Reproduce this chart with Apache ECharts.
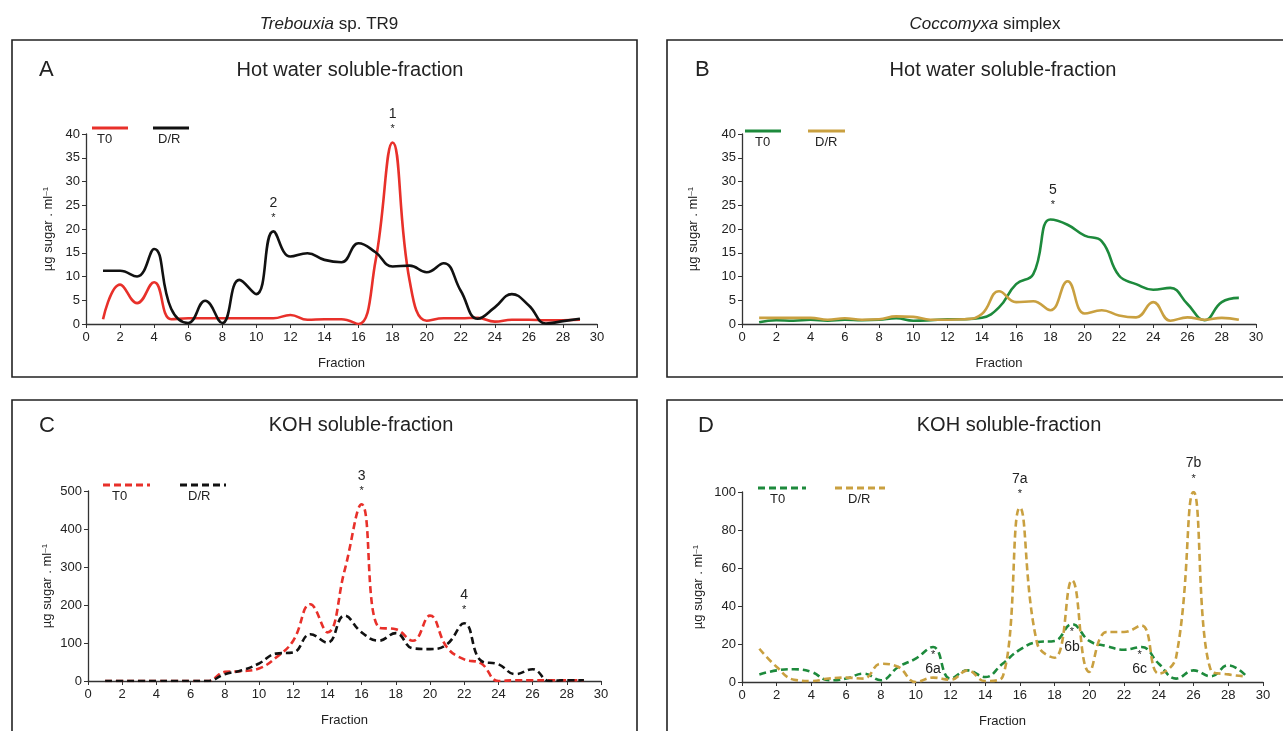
<!DOCTYPE html>
<html lang="en">
<head>
    <meta charset="UTF-8">
    <title>Polysaccharide fractions</title>
    <style>
        html, body, #main {
            width: 100%;
            height: 100%;
            margin: 0;
            padding: 0;
            background: #fff;
        }
    </style>
    <script src="https://cdn.jsdelivr.net/npm/echarts@6/dist/echarts.min.js"></script>
</head>
<body>
    <div id="main"></div>
    <script>
        var chart = echarts.init(document.getElementById('main'));

        // fraction numbers (x)
        const fractions = [1, 2, 3, 4, 5, 6, 7, 8, 9, 10, 11, 12, 13, 14, 15, 16, 17, 18, 19, 20, 21, 22, 23, 24, 25, 26, 27, 28, 29];

        // A - Trebouxia, hot water
        const trebHotT0 = [1.0, 8.3, 4.4, 8.8, 1.0, 1.2, 1.2, 1.2, 1.2, 1.2, 1.2, 1.9, 0.9, 1.0, 1.0, 0, 13.3, 38.2, 9.1, 0.7, 1.2, 1.2, 1.3, 0.5, 0.9, 0.9, 0.8, 0.8, 0.9];
        const trebHotDR = [11.2, 11.2, 10.0, 15.8, 3.2, 0.2, 4.9, 0.2, 9.3, 6.3, 19.5, 14.2, 14.9, 13.5, 13.0, 17.0, 15.1, 12.1, 12.3, 10.9, 12.8, 7.0, 1.1, 3.5, 6.3, 3.9, 0.1, 0.6, 1.1];
        // B - Coccomyxa, hot water
        const coccHotT0 = [0.35, 0.8, 0.7, 0.9, 0.7, 0.9, 0.8, 0.9, 1.2, 0.7, 0.8, 1.0, 1.0, 1.3, 3.5, 8.4, 10.5, 22.0, 20.9, 18.6, 17.4, 10.2, 8.4, 7.2, 7.6, 4.2, 0.8, 4.6, 5.5];
        const coccHotDR = [1.3, 1.3, 1.3, 1.3, 0.9, 1.2, 0.9, 1.0, 1.6, 1.5, 0.9, 0.9, 1.0, 2.1, 6.9, 4.6, 4.8, 2.9, 9.0, 2.2, 2.9, 1.8, 1.4, 4.6, 0.7, 1.4, 0.9, 1.3, 0.9];
        // C - Trebouxia, KOH
        const trebKohT0 = [0, 0, 0, 0, 0, 0, 0, 24, 26, 33, 62, 106, 202, 128, 290, 465, 141, 136, 106, 172, 88, 57, 46, 0, 2, 2, 2, 2, 2];
        const trebKohDR = [0, 0, 0, 0, 0, 0, 0, 18, 28, 46, 72, 75, 123, 101, 172, 128, 106, 126, 86, 84, 97, 152, 53, 44, 18, 31, 0, 2, 2];
        // D - Coccomyxa, KOH
        const coccKohT0 = [4.0, 6.1, 6.7, 5.3, 0.9, 1.8, 4.4, 0.9, 7.9, 12.3, 18.4, 1.8, 6.1, 2.6, 9.6, 17.0, 21.0, 21.6, 30.4, 21.6, 18.9, 17.0, 18.4, 9.6, 1.8, 6.1, 3.0, 8.8, 3.5];
        const coccKohDR = [17.5, 7.9, 1.2, 0.5, 1.8, 2.3, 1.8, 9.6, 7.9, 0, 2.3, 1.2, 6.1, 0.5, 2.6, 91.8, 20.2, 12.8, 53.5, 5.3, 26.3, 26.3, 29.8, 4.4, 13.2, 100, 6.1, 4.0, 3.0];

        const seriesNames = ['T0', 'D/R'];
        const panelTitles = ['Hot water soluble-fraction', 'Hot water soluble-fraction', 'KOH soluble-fraction', 'KOH soluble-fraction'];
        const panelLetters = ['A', 'B', 'C', 'D'];
        const yMax = [40, 40, 500, 100];
        const yStep = [5, 5, 100, 20];

        const RED = '#e8302a', BLACK = '#111111', GREEN = '#1d8a3c', GOLD = '#c9a040';
        const DASH = [7, 4];

        function pairs(vals) {
            return fractions.map(function (f, i) { return [f, vals[i]]; });
        }

        // grid positions
        const grids = [
            { left: 86, top: 134, width: 511, height: 190 },
            { left: 742, top: 134, width: 514, height: 190 },
            { left: 88, top: 491, width: 513, height: 190 },
            { left: 742, top: 492, width: 521, height: 190 }
        ];
        const yNameGap = [31, 42, 34, 37];
        const xNameGap = [33, 33, 33, 33];

        const txt = '#222';
        const font = 'Liberation Sans, Arial, sans-serif';

        var xAxes = [], yAxes = [];
        grids.forEach(function (g, i) {
            xAxes.push({
                type: 'value', gridIndex: i, min: 0, max: 30, interval: 2,
                name: 'Fraction', nameLocation: 'middle', nameGap: xNameGap[i],
                nameTextStyle: { color: txt, fontSize: 13, fontFamily: font },
                axisLine: { lineStyle: { color: '#333', width: 1.3 } },
                axisTick: { show: true, length: 4, lineStyle: { color: '#333' } },
                axisLabel: { color: txt, fontSize: 13, fontFamily: font, margin: 7 },
                splitLine: { show: false }
            });
            yAxes.push({
                type: 'value', gridIndex: i, min: 0, max: yMax[i], interval: yStep[i],
                name: 'µg sugar . ml{s|–1}', nameLocation: 'middle', nameGap: yNameGap[i],
                nameRotate: 90,
                nameTextStyle: {
                    color: txt, fontSize: 13, fontFamily: font,
                    rich: { s: { fontSize: 8, verticalAlign: 'top', lineHeight: 10, color: txt, fontFamily: font } }
                },
                axisLine: { show: true, lineStyle: { color: '#333', width: 1.3 } },
                axisTick: { show: true, length: 4, lineStyle: { color: '#333' } },
                axisLabel: { color: txt, fontSize: 13, fontFamily: font, margin: 6 },
                splitLine: { show: false }
            });
        });

        function annot(x, y, label, below) {
            return {
                coord: [x, y],
                symbol: 'circle', symbolSize: 1,
                itemStyle: { color: 'rgba(0,0,0,0)' },
                label: {
                    show: true,
                    position: below ? 'bottom' : 'top',
                    distance: below ? 1 : 7,
                    lineHeight: 17,
                    formatter: below ? '{s|*}\n{n|' + label + '}' : '{n|' + label + '}\n{s|*}',
                    rich: {
                        n: { fontSize: 14, color: '#222', fontFamily: font, lineHeight: 18 },
                        s: { fontSize: 11, color: '#222', fontFamily: font, lineHeight: 12 }
                    }
                }
            };
        }

        function line(name, vals, gi, color, dashed, marks) {
            return {
                name: name, type: 'line', xAxisIndex: gi, yAxisIndex: gi,
                data: pairs(vals), smooth: 0.45, showSymbol: false, symbol: 'none',
                lineStyle: { color: color, width: 2.6, type: dashed ? DASH : 'solid' },
                itemStyle: { color: color },
                markPoint: marks ? { silent: true, animation: false, data: marks } : undefined,
                z: 3
            };
        }

        var series = [
            line('T0', trebHotT0, 0, RED, false, [annot(18, trebHotT0[17], '1')]),
            line('D/R', trebHotDR, 0, BLACK, false, [annot(11, trebHotDR[10], '2')]),
            line('T0', coccHotT0, 1, GREEN, false, [annot(18.15, coccHotT0[17] + 0.2, '5')]),
            line('D/R', coccHotDR, 1, GOLD, false),
            line('T0', trebKohT0, 2, RED, true, [annot(16, trebKohT0[15], '3')]),
            line('D/R', trebKohDR, 2, BLACK, true, [annot(22, trebKohDR[21], '4')]),
            line('T0', coccKohT0, 3, GREEN, true, [annot(11, coccKohT0[10], '6a', true), annot(19, coccKohT0[18], '6b', true), annot(22.9, coccKohT0[22], '6c', true)]),
            line('D/R', coccKohDR, 3, GOLD, true, [annot(16, coccKohDR[15], '7a'), annot(26, coccKohDR[25], '7b')])
        ];

        // titles
        var titles = [
            { text: '{i|Trebouxia} sp. TR9', left: 324, top: 11, textAlign: 'center',
              textStyle: { fontSize: 17, fontWeight: 'normal', color: txt, fontFamily: font,
                rich: { i: { fontStyle: 'italic', fontSize: 17, color: txt, fontFamily: font } } } },
            { text: '{i|Coccomyxa} simplex', left: 980, top: 11, textAlign: 'center',
              textStyle: { fontSize: 17, fontWeight: 'normal', color: txt, fontFamily: font,
                rich: { i: { fontStyle: 'italic', fontSize: 17, color: txt, fontFamily: font } } } }
        ];
        const letterPos = [[34, 54], [690, 54], [34, 410], [693, 410]];
        const subPos = [[345, 55], [998, 55], [356, 410], [1004, 410]];
        for (let i = 0; i < 4; i++) {
            titles.push({ text: panelLetters[i], left: letterPos[i][0], top: letterPos[i][1],
                textStyle: { fontSize: 22, fontWeight: 'normal', color: txt, fontFamily: font } });
            titles.push({ text: panelTitles[i], left: subPos[i][0], top: subPos[i][1], textAlign: 'center',
                textStyle: { fontSize: 20, fontWeight: 'normal', color: txt, fontFamily: font } });
        }

        // panel frames and legend keys
        var graphics = [];
        const boxes = [[12, 40, 625, 337], [667, 40, 620, 337], [12, 400, 625, 340], [667, 400, 620, 340]];
        boxes.forEach(function (b) {
            graphics.push({ type: 'rect', shape: { x: b[0], y: b[1], width: b[2], height: b[3] },
                style: { fill: 'none', stroke: '#222', lineWidth: 1.6 }, silent: true });
        });
        const legendKeys = [
            // x1, x2, y, text x, color, dashed, name index
            [92, 128, 128, 97, RED, false, 0], [153, 189, 128, 158, BLACK, false, 1],
            [745, 781, 131, 755, GREEN, false, 0], [808, 845, 131, 815, GOLD, false, 1],
            [103, 150, 485, 112, RED, true, 0], [180, 226, 485, 188, BLACK, true, 1],
            [758, 806, 488, 770, GREEN, true, 0], [835, 885, 488, 848, GOLD, true, 1]
        ];
        legendKeys.forEach(function (k) {
            graphics.push({ type: 'line', shape: { x1: k[0], y1: k[2], x2: k[1], y2: k[2] },
                style: { stroke: k[4], lineWidth: 3, lineDash: k[5] ? [7, 4] : null }, silent: true });
            graphics.push({ type: 'text', x: k[3], y: k[2] + 5,
                style: { text: seriesNames[k[6]], fill: txt, fontSize: 13, fontFamily: font }, silent: true });
        });

        var option = {
            backgroundColor: '#fff',
            animation: false,
            title: titles,
            grid: grids,
            xAxis: xAxes,
            yAxis: yAxes,
            series: series,
            graphic: graphics
        };

        chart.setOption(option);
    </script>
</body>
</html>
